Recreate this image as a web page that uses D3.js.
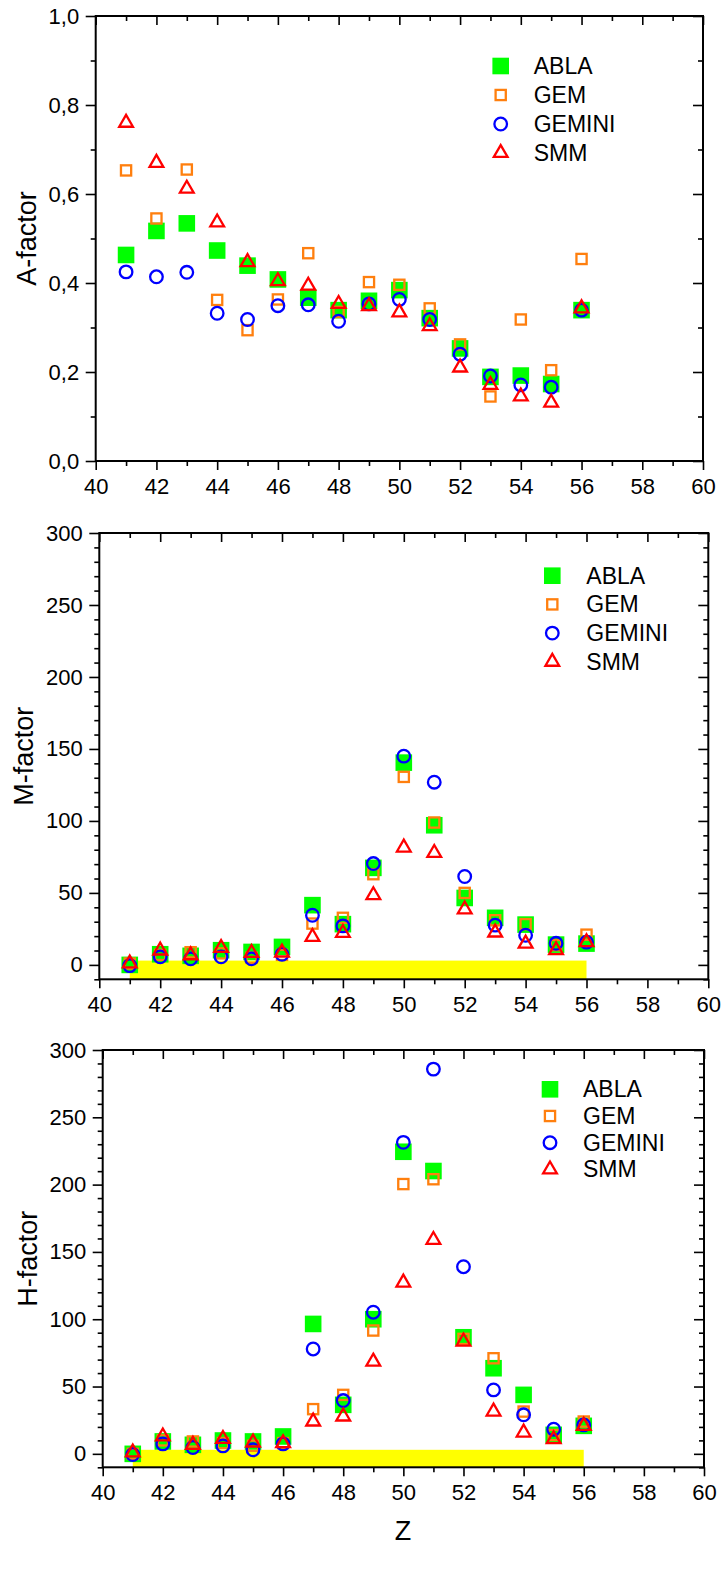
<!DOCTYPE html>
<html>
<head>
<meta charset="utf-8">
<script src="https://cdn.jsdelivr.net/npm/d3@7"></script>
<style>
  html, body { margin: 0; padding: 0; background: #fff; }
  svg { display: block; font-family: "Liberation Sans", Arial, sans-serif; }
</style>
</head>
<body>
<svg id="chart" width="723" height="1571"></svg>
<script>
// Proton number of the fragments
const Z = [41, 42, 43, 44, 45, 46, 47, 48, 49, 50, 51, 52, 53, 54, 55, 56];

// A-factor per model
const aABLA   = [0.463, 0.517, 0.534, 0.473, 0.439, 0.408, 0.367, 0.339, 0.360, 0.384, 0.321, 0.253, 0.189, 0.192, 0.173, 0.339];
const aGEM    = [0.653, 0.545, 0.655, 0.362, 0.294, 0.363, 0.467, 0.335, 0.402, 0.396, 0.343, 0.262, 0.145, 0.318, 0.204, 0.454];
const aGEMINI = [0.425, 0.414, 0.424, 0.332, 0.318, 0.349, 0.351, 0.314, 0.353, 0.363, 0.318, 0.240, 0.191, 0.171, 0.166, 0.339];
const aSMM    = [0.760, 0.670, 0.612, 0.536, 0.447, 0.404, 0.394, 0.353, 0.348, 0.334, 0.303, 0.210, 0.171, 0.145, 0.131, 0.343];

// M-factor per model
const mABLA   = [0, 7.4, 6.3, 10.2, 9.0, 12.5, 41.5, 28.3, 67.4, 140.5, 97.0, 46.5, 32.7, 28.0, 14.1, 14.8];
const mGEM    = [1, 7.0, 8.8, 8.0, 5.0, 7.0, 28.7, 32.7, 63.0, 130.6, 98.9, 50.0, 31.0, 28.3, 13.7, 21.0];
const mGEMINI = [-0.5, 5.6, 4.2, 5.6, 4.2, 7.4, 34.5, 27.1, 70.4, 145.0, 126.9, 61.4, 27.6, 20.6, 15.0, 15.8];
const mSMM    = [1, 10.0, 6.7, 11.8, 8.3, 8.6, 19.4, 22.2, 48.4, 81.5, 77.8, 38.5, 22.5, 14.8, 10.2, 15.8];

// H-factor per model
const hABLA   = [0, 9.2, 6.7, 9.9, 9.2, 12.9, 96.5, 36.4, 100.0, 224.4, 210.1, 86.6, 63.6, 43.8, 14.1, 20.8];
const hGEM    = [0, 10.0, 9.2, 8.0, 6.0, 8.0, 33.2, 43.8, 91.6, 200.4, 204.0, 85.4, 71.0, 31.4, 14.0, 24.0];
const hGEMINI = [-0.5, 7.4, 4.7, 5.9, 3.0, 7.4, 77.9, 39.6, 105.2, 231.4, 285.8, 139.0, 47.5, 29.0, 18.3, 21.5];
const hSMM    = [1, 12.9, 6.7, 11.1, 8.4, 7.9, 24.0, 27.7, 68.5, 127.2, 158.9, 83.4, 31.4, 15.8, 10.9, 20.8];

// Highlighted Z range and its height on the M/H plots
const bandZ = [41, 56];
const bandTop = 3;

// Axis ticks
const xMajor = [40, 42, 44, 46, 48, 50, 52, 54, 56, 58, 60];
const xMinor = [41, 43, 45, 47, 49, 51, 53, 55, 57, 59];
const aMajor = [0, 0.2, 0.4, 0.6, 0.8, 1.0];
const aMinor = [0.1, 0.3, 0.5, 0.7, 0.9];
const mhMajor = [0, 50, 100, 150, 200, 250, 300];
const mhMinor = [-10, 10, 20, 30, 40, 60, 70, 80, 90, 110, 120, 130, 140, 160, 170, 180, 190, 210, 220, 230, 240, 260, 270, 280, 290];

const models = ["ABLA", "GEM", "GEMINI", "SMM"];
const colors = { ABLA: "#00ff00", GEM: "#ff7f0e", GEMINI: "#0000ff", SMM: "#ff0000" };

const commaFmt = d3.formatLocale({ decimal: ",", thousands: ".", grouping: [3], currency: ["", ""] }).format(".1f");
const FONT = "Liberation Sans, Arial, sans-serif";

const svg = d3.select("#chart");

// Draws one marker shape centred at the origin of g
function marker(g, model) {
  if (model === "ABLA") {
    g.append("rect").attr("x", -8.3).attr("y", -8.3).attr("width", 16.6).attr("height", 16.6)
      .attr("fill", colors.ABLA);
  } else if (model === "GEM") {
    g.append("rect").attr("x", -5.1).attr("y", -5.1).attr("width", 10.2).attr("height", 10.2)
      .attr("fill", "none").attr("stroke", colors.GEM).attr("stroke-width", 2.3);
  } else if (model === "GEMINI") {
    g.append("circle").attr("r", 6.3)
      .attr("fill", "none").attr("stroke", colors.GEMINI).attr("stroke-width", 2.3);
  } else {
    g.append("path").attr("d", d3.symbol(d3.symbolTriangle, 82)())
      .attr("fill", "none").attr("stroke", colors.SMM).attr("stroke-width", 2.3)
      .attr("stroke-linejoin", "miter");
  }
}

function panel(cfg) {
  const x = d3.scaleLinear().domain([40, 60]).range([cfg.left, cfg.right]);
  const y = d3.scaleLinear().domain(cfg.yDomain).range([cfg.bottom, cfg.top]);
  const g = svg.append("g");

  if (cfg.band) {
    g.append("rect")
      .attr("x", x(bandZ[0])).attr("width", x(bandZ[1]) - x(bandZ[0]))
      .attr("y", y(bandTop)).attr("height", y(cfg.yDomain[0]) - y(bandTop))
      .attr("fill", "#ffff00");
  }

  // Frame
  g.append("rect")
    .attr("x", cfg.left).attr("y", cfg.top)
    .attr("width", cfg.right - cfg.left).attr("height", cfg.bottom - cfg.top)
    .attr("fill", "none").attr("stroke", "#000").attr("stroke-width", 2);

  const styleAxis = (sel) => {
    sel.select(".domain").remove();
    sel.selectAll(".tick line").attr("stroke", "#000").attr("stroke-width", 1.6);
  };
  const styleText = (sel) => sel.selectAll("text")
    .attr("font-size", 22).attr("fill", "#000").attr("font-family", FONT);

  // Bottom axis (outward ticks with labels)
  g.append("g").attr("transform", `translate(0,${cfg.bottom})`)
    .call(d3.axisBottom(x).tickValues(xMajor).tickSize(9).tickPadding(8.5).tickFormat(d3.format("d")))
    .call(styleAxis).call(styleText);
  g.append("g").attr("transform", `translate(0,${cfg.bottom})`)
    .call(d3.axisBottom(x).tickValues(xMinor).tickSize(5).tickFormat(""))
    .call(styleAxis);

  // Top axis (inward ticks)
  g.append("g").attr("transform", `translate(0,${cfg.top})`)
    .call(d3.axisTop(x).tickValues(xMajor).tickSize(-9).tickFormat(""))
    .call(styleAxis);
  g.append("g").attr("transform", `translate(0,${cfg.top})`)
    .call(d3.axisTop(x).tickValues(xMinor).tickSize(-5).tickFormat(""))
    .call(styleAxis);

  // Left axis (outward ticks with labels)
  g.append("g").attr("transform", `translate(${cfg.left},0)`)
    .call(d3.axisLeft(y).tickValues(cfg.yMajor).tickSize(10).tickPadding(6.5).tickFormat(cfg.yFormat))
    .call(styleAxis).call(styleText);
  g.append("g").attr("transform", `translate(${cfg.left},0)`)
    .call(d3.axisLeft(y).tickValues(cfg.yMinor).tickSize(5).tickFormat(""))
    .call(styleAxis);

  // Right axis (inward ticks)
  g.append("g").attr("transform", `translate(${cfg.right},0)`)
    .call(d3.axisRight(y).tickValues(cfg.yMajor).tickSize(-10).tickFormat(""))
    .call(styleAxis);
  g.append("g").attr("transform", `translate(${cfg.right},0)`)
    .call(d3.axisRight(y).tickValues(cfg.yMinor).tickSize(-5).tickFormat(""))
    .call(styleAxis);

  // Y-axis title
  g.append("text")
    .attr("transform", `translate(${cfg.titleX},${(cfg.top + cfg.bottom) / 2}) rotate(-90)`)
    .attr("text-anchor", "middle").attr("dominant-baseline", "central")
    .attr("font-size", 27).attr("fill", "#000")
    .text(cfg.title);

  // Data markers, drawn in series order
  models.forEach(m => {
    const vals = cfg.series[m];
    g.append("g").selectAll("g").data(Z.map((z, i) => [z, vals[i]])).join("g")
      .attr("transform", d => `translate(${x(d[0])},${y(d[1])})`)
      .each(function () { marker(d3.select(this), m); });
  });

  // Legend
  const lg = g.append("g").attr("transform", `translate(${cfg.legend[0]},${cfg.legend[1]})`);
  models.forEach((m, i) => {
    const row = lg.append("g").attr("transform", `translate(0,${i * cfg.legendStep})`);
    marker(row, m);
    row.append("text").attr("x", cfg.legendText).attr("y", 0)
      .attr("dominant-baseline", "central").attr("font-size", 23).attr("fill", "#000")
      .text(m);
  });

  return { x, y };
}

panel({
  left: 95.7, right: 703, top: 16, bottom: 461,
  yDomain: [0, 1], yMajor: aMajor, yMinor: aMinor, yFormat: commaFmt,
  title: "A-factor", titleX: 27,
  series: { ABLA: aABLA, GEM: aGEM, GEMINI: aGEMINI, SMM: aSMM },
  legend: [500.7, 66], legendStep: 29, legendText: 33,
  band: false
});

panel({
  left: 99.3, right: 708.3, top: 533, bottom: 979.3,
  yDomain: [-10, 300], yMajor: mhMajor, yMinor: mhMinor, yFormat: d3.format("d"),
  title: "M-factor", titleX: 24,
  series: { ABLA: mABLA, GEM: mGEM, GEMINI: mGEMINI, SMM: mSMM },
  legend: [552.3, 575.7], legendStep: 28.7, legendText: 34,
  band: true
});

panel({
  left: 102.7, right: 704, top: 1050, bottom: 1467.3,
  yDomain: [-10, 300], yMajor: mhMajor, yMinor: mhMinor, yFormat: d3.format("d"),
  title: "H-factor", titleX: 28,
  series: { ABLA: hABLA, GEM: hGEM, GEMINI: hGEMINI, SMM: hSMM },
  legend: [550, 1089.3], legendStep: 26.7, legendText: 33,
  band: true
});

// X-axis title
svg.append("text")
  .attr("x", 403).attr("y", 1531)
  .attr("text-anchor", "middle").attr("dominant-baseline", "central")
  .attr("font-size", 27).attr("fill", "#000")
  .text("Z");
</script>
</body>
</html>
